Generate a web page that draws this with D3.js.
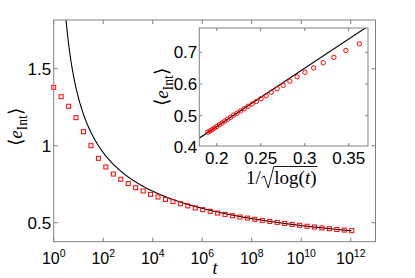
<!DOCTYPE html>
<html><head><meta charset="utf-8">
<script src="https://cdn.jsdelivr.net/npm/d3@7"></script>
<style>body{margin:0;background:#fff}svg{display:block}</style>
</head><body><svg id="c" width="415" height="278"></svg>
<script>
// ---- data ----
const log2t = [0,1,2,3,4,5,6,7,8,9,10,11,12,13,14,15,16,17,18,19,20,21,22,23,24,25,26,27,28,29,30,31,32,33,34,35,36,37,38,39,40];
const eInt = [1.379,1.318,1.256,1.182,1.091,1.000,0.918,0.862,0.816,0.782,0.754,
              0.727,0.706,0.684,0.667,0.651,0.637,0.623,0.609,0.596,0.585,
              0.574,0.563,0.554,0.545,0.537,0.530,0.522,0.515,0.508,0.502,
              0.495,0.489,0.483,0.477,0.472,0.466,0.461,0.456,0.452,0.448];
const fitIntercept = 0.098, fitSlope = 1.84;   // e = a + b / sqrt(log t)
const mainXTickExp = [0,2,4,6,8,10,12];
const mainYTicks = [0.5,1,1.5];
const insetXTicks = [0.2,0.25,0.3,0.35];
const insetYTicks = [0.4,0.5,0.6,0.7];

const svg = d3.select("#c");
const gray = "#808080";
const pts = log2t.map((k,i)=>({t:Math.pow(2,k), e:eInt[i]}));

// ---- main axes ----
const M = {l:53.7, r:375.5, t:20, b:241.7};
const x = d3.scaleLog().domain([1,1e13]).range([M.l,M.r]);
const y = d3.scaleLinear().domain([0.3766,1.816]).range([M.b,M.t]);

svg.append("clipPath").attr("id","mclip").append("rect")
  .attr("x",M.l).attr("y",M.t).attr("width",M.r-M.l).attr("height",M.b-M.t);

const mainG = svg.append("g");
const fitLx = d3.range(0.25,12.05,0.02);
const curve = fitLx.map(lx=>{const t=Math.pow(10,lx);return {t, e: fitIntercept + fitSlope/Math.sqrt(Math.log(t))};});
mainG.append("path").datum(curve).attr("clip-path","url(#mclip)")
  .attr("fill","none").attr("stroke","#000").attr("stroke-width",1.1)
  .attr("d", d3.line().x(d=>x(d.t)).y(d=>y(d.e)));
mainG.selectAll("rect.sq").data(pts).join("rect").attr("class","sq")
  .attr("x",d=>x(d.t)-2).attr("y",d=>y(d.e)-2).attr("width",4).attr("height",4)
  .attr("fill","none").attr("stroke","#ff0000").attr("stroke-width",1);

function frame(g, x0,x1,y0,y1, xt, yt, len){
  g.append("rect").attr("x",x0).attr("y",y0).attr("width",x1-x0).attr("height",y1-y0)
    .attr("fill","none").attr("stroke",gray).attr("stroke-width",1);
  xt.forEach(px=>{
    g.append("line").attr("x1",px).attr("x2",px).attr("y1",y1).attr("y2",y1-len).attr("stroke",gray);
    g.append("line").attr("x1",px).attr("x2",px).attr("y1",y0).attr("y2",y0+len).attr("stroke",gray);
  });
  yt.forEach(py=>{
    g.append("line").attr("x1",x0).attr("x2",x0+len).attr("y1",py).attr("y2",py).attr("stroke",gray);
    g.append("line").attr("x1",x1).attr("x2",x1-len).attr("y1",py).attr("y2",py).attr("stroke",gray);
  });
}
frame(svg, M.l,M.r,M.t,M.b, mainXTickExp.map(e=>x(Math.pow(10,e))), mainYTicks.map(v=>y(v)), 4);

const sans = "Liberation Sans, Arial, Helvetica, sans-serif";
const serif = "Liberation Serif, Times New Roman, serif";
mainXTickExp.forEach(e=>{
  const tx = svg.append("text").attr("x",x(Math.pow(10,e))).attr("y",264)
    .attr("text-anchor","middle").attr("font-family",sans).attr("font-size",16);
  tx.append("tspan").text("10");
  tx.append("tspan").attr("font-size",10.5).attr("dy",-7).text(e);
});
mainYTicks.forEach(v=>{
  svg.append("text").attr("x",M.l-2.5).attr("y",y(v)+6).attr("text-anchor","end")
    .attr("font-family",sans).attr("font-size",17).text(v===1?"1":v);
});
svg.append("text").attr("x",215).attr("y",274).attr("text-anchor","middle")
  .attr("font-family",serif).attr("font-style","italic").attr("font-size",18).text("t");
function eLabel(cx,cy,fs){
  const t = svg.append("text").attr("transform",`translate(${cx},${cy}) rotate(-90)`)
    .attr("text-anchor","middle").attr("font-family",serif).attr("font-size",fs);
  t.append("tspan").text("\u27E8");
  t.append("tspan").attr("font-style","italic").text("e");
  t.append("tspan").attr("font-size",fs*0.72).attr("dy",fs*0.25).text("Int");
  t.append("tspan").attr("dy",-fs*0.25).text("\u27E9");
}
eLabel(22,127,19);

// ---- inset ----
const I = {l:199.3, r:368, t:28, b:146};
const xi = d3.scaleLinear().domain([0.1802,0.3719]).range([I.l,I.r]);
const yi = d3.scaleLinear().domain([0.4044,0.7767]).range([I.b,I.t]);
svg.append("rect").attr("x",I.l).attr("y",I.t).attr("width",I.r-I.l).attr("height",I.b-I.t).attr("fill","#fff");
svg.append("clipPath").attr("id","iclip").append("rect")
  .attr("x",I.l).attr("y",I.t).attr("width",I.r-I.l).attr("height",I.b-I.t);
const ig = svg.append("g");
const lineX = [0.17,0.38];
ig.append("path").attr("clip-path","url(#iclip)").datum(lineX)
  .attr("fill","none").attr("stroke","#000").attr("stroke-width",1.1)
  .attr("d", d3.line().x(v=>xi(v)).y(v=>yi(fitIntercept+fitSlope*v)));
const ipts = pts.filter(d=>d.t>1).map(d=>({u:1/Math.sqrt(Math.log(d.t)), e:d.e}))
  .filter(d=>d.u>=xi.domain()[0] && d.u<=xi.domain()[1] && d.e<=yi.domain()[1]);
ig.selectAll("circle").data(ipts).join("circle")
  .attr("cx",d=>xi(d.u)).attr("cy",d=>yi(d.e)).attr("r",2.2)
  .attr("fill","none").attr("stroke","#ff0000").attr("stroke-width",1);
frame(svg, I.l,I.r,I.t,I.b, insetXTicks.map(v=>xi(v)), insetYTicks.filter(v=>yi(v)<=I.b).map(v=>yi(v)), 3);
insetXTicks.forEach(v=>{
  svg.append("text").attr("x",xi(v)).attr("y",163.5).attr("text-anchor","middle")
    .attr("font-family",sans).attr("font-size",17).text(v);
});
insetYTicks.forEach(v=>{
  svg.append("text").attr("x",I.l-2).attr("y",yi(v)+6).attr("text-anchor","end")
    .attr("font-family",sans).attr("font-size",17).text(v);
});
eLabel(168,87,19);

// inset x label: 1/ sqrt(log(t)) with a drawn radical
const lblY = 184, lblFs = 19, lblStart = 246;
const one = svg.append("text").attr("x",lblStart).attr("y",lblY)
  .attr("font-family",serif).attr("font-size",lblFs).text("1/");
const oneW = one.node().getComputedTextLength();
const rx = lblStart + oneW + 0.5;
const rad = svg.append("text").attr("x",rx+13).attr("y",lblY)
  .attr("font-family",serif).attr("font-size",lblFs);
rad.append("tspan").text("log(");
rad.append("tspan").attr("font-style","italic").text("t");
rad.append("tspan").text(")");
const radW = rad.node().getComputedTextLength();
svg.append("path")
  .attr("d",`M${rx},${lblY-6} L${rx+3},${lblY-8} L${rx+7},${lblY+4} L${rx+12.5},${lblY-17.5} L${rx+13+radW+1},${lblY-17.5}`)
  .attr("fill","none").attr("stroke","#000").attr("stroke-width",0.9).attr("stroke-linejoin","miter");
</script></body></html>
